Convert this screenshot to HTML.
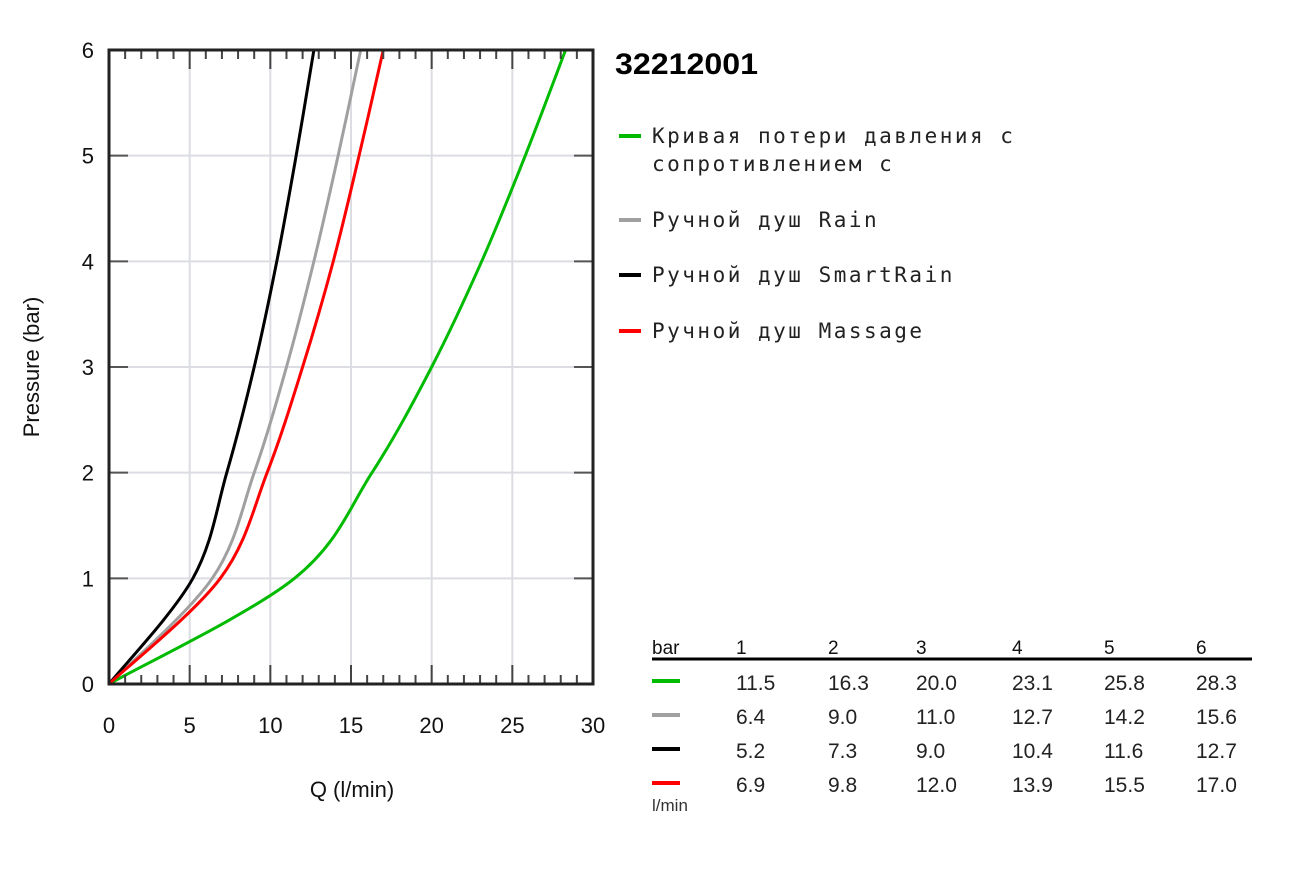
<!DOCTYPE html>
<html><head><meta charset="utf-8"><style>
body{margin:0;background:#fff;width:1310px;height:874px;overflow:hidden}
svg text{font-family:"Liberation Sans",Arial,sans-serif}
.mono{font-family:"DejaVu Sans Mono","Liberation Mono",monospace}
</style></head><body>
<svg id="chart" width="1310" height="874" viewBox="0 0 1310 874" xmlns="http://www.w3.org/2000/svg">
<g id="grid"></g>
<g id="curves"></g>
<g id="axes"></g>
<text x="352" y="797" font-size="22" text-anchor="middle" fill="#111">Q (l/min)</text>
<text transform="translate(39,367) rotate(-90)" font-size="22" text-anchor="middle" fill="#111">Pressure (bar)</text>
<text x="615" y="74" font-size="30" font-weight="bold" fill="#000" textLength="143" lengthAdjust="spacingAndGlyphs">32212001</text>
<g id="legend"></g>
<g id="table"></g>
</svg>
<script>
const pressures=[1,2,3,4,5,6];
const xTicks=[0,5,10,15,20,25,30];
const yTicks=[0,1,2,3,4,5,6];
const seriesNames=["Кривая потери давления с сопротивлением с","Ручной душ Rain","Ручной душ SmartRain","Ручной душ Massage"];
const seriesColors=["#00bb00","#a0a0a0","#000000","#ff0000"];
const flowGreen=[11.5,16.3,20.0,23.1,25.8,28.3];
const flowGrey=[6.4,9.0,11.0,12.7,14.2,15.6];
const flowBlack=[5.2,7.3,9.0,10.4,11.6,12.7];
const flowRed=[6.9,9.8,12.0,13.9,15.5,17.0];
const series=[flowGreen,flowGrey,flowBlack,flowRed];
const X0=109,X1=593,Y0=684,Y1=50;
const xs=v=>X0+(v-0)/(30-0)*(X1-X0);
const ys=v=>Y0-(v-0)/(6-0)*(Y0-Y1);
const NS="http://www.w3.org/2000/svg";
function mk(tag,attrs,parent){const e=document.createElementNS(NS,tag);for(const k in attrs)e.setAttribute(k,attrs[k]);parent.appendChild(e);return e;}
const grid=document.getElementById('grid'),axes=document.getElementById('axes'),curves=document.getElementById('curves');
xTicks.forEach(t=>{if(t>0&&t<30){const l=mk('line',{x1:xs(t),x2:xs(t),y1:Y1,y2:Y0,stroke:'#dcdde3','stroke-width':2},grid);

}
const tx=mk('text',{x:xs(t),y:733,'font-size':22,'text-anchor':'middle',fill:'#111'},axes);tx.textContent=t;

});
yTicks.forEach(t=>{if(t>0&&t<6){const l=mk('line',{x1:X0,x2:X1,y1:ys(t),y2:ys(t),stroke:'#dcdde3','stroke-width':2},grid);

}
const tx=mk('text',{x:94,y:ys(t)+8,'font-size':22,'text-anchor':'end',fill:'#111'},axes);tx.textContent=t;


mk('line',{x1:X0,x2:X0+19,y1:ys(t),y2:ys(t),stroke:'#555','stroke-width':2},axes);
mk('line',{x1:X1-19,x2:X1,y1:ys(t),y2:ys(t),stroke:'#555','stroke-width':2},axes);});
for(let v=1;v<30;v++){const len=v%5===0?19:9;
mk('line',{x1:xs(v),x2:xs(v),y1:Y0,y2:Y0-len,stroke:'#444','stroke-width':2},axes);
mk('line',{x1:xs(v),x2:xs(v),y1:Y1,y2:Y1+len,stroke:'#444','stroke-width':2},axes);}
const fr=mk('rect',{x:X0,y:Y1,width:X1-X0,height:Y0-Y1,fill:'none',stroke:'#222','stroke-width':3},axes);


// curves: Catmull-Rom spline through data points (origin included)
series.forEach((arr,i)=>{const pts=[[0,0]].concat(arr.map((q,k)=>[q,pressures[k]])).map(p=>[xs(p[0]),ys(p[1])]);
let d='M'+pts[0][0]+','+pts[0][1];
for(let k=0;k<pts.length-1;k++){const p0=pts[Math.max(0,k-1)],p1=pts[k],p2=pts[k+1],p3=pts[Math.min(pts.length-1,k+2)];
const c1=[p1[0]+(p2[0]-p0[0])/6,p1[1]+(p2[1]-p0[1])/6],c2=[p2[0]-(p3[0]-p1[0])/6,p2[1]-(p3[1]-p1[1])/6];
d+='C'+c1[0].toFixed(2)+','+c1[1].toFixed(2)+' '+c2[0].toFixed(2)+','+c2[1].toFixed(2)+' '+p2[0].toFixed(2)+','+p2[1].toFixed(2);}
const pa=mk('path',{d:d,fill:'none',stroke:seriesColors[i],'stroke-width':3},curves);

});
// legend
const lg=document.getElementById('legend');
const legY=[136,220,275,331];
seriesNames.forEach((n,i)=>{const g=mk('g',{},lg);


mk('line',{x1:619,x2:641,y1:legY[i],y2:legY[i],stroke:seriesColors[i],'stroke-width':4},g);
const t=mk('text',{x:652,y:legY[i]+7,'font-size':21,fill:'#222',class:'mono','letter-spacing':'2.5'},g);
if(i===0){t.innerHTML='<tspan x="652">Кривая потери давления с</tspan><tspan x="652" dy="28">сопротивлением с</tspan>';}else t.textContent=n;});
// table
const tb=document.getElementById('table');
const colX=[736,828,916,1012,1104,1196];
const h=mk('text',{x:652,y:654,'font-size':19,fill:'#111'},tb);h.textContent='bar';
pressures.forEach((p,k)=>{const t=mk('text',{x:colX[k],y:654,'font-size':19,fill:'#111'},tb);t.textContent=p;

});
mk('line',{x1:652,x2:1252,y1:659,y2:659,stroke:'#000','stroke-width':3},tb);
const rowY=[690,724,758,792];
series.forEach((arr,i)=>{mk('line',{x1:652,x2:680,y1:rowY[i]-9,y2:rowY[i]-9,stroke:seriesColors[i],'stroke-width':4},tb);
arr.forEach((v,k)=>{const t=mk('text',{x:colX[k],y:rowY[i],'font-size':21,fill:'#222'},tb);t.textContent=v.toFixed(1);

});});
const u=mk('text',{x:652,y:811,'font-size':17,fill:'#333'},tb);u.textContent='l/min';
</script>
</body></html>
